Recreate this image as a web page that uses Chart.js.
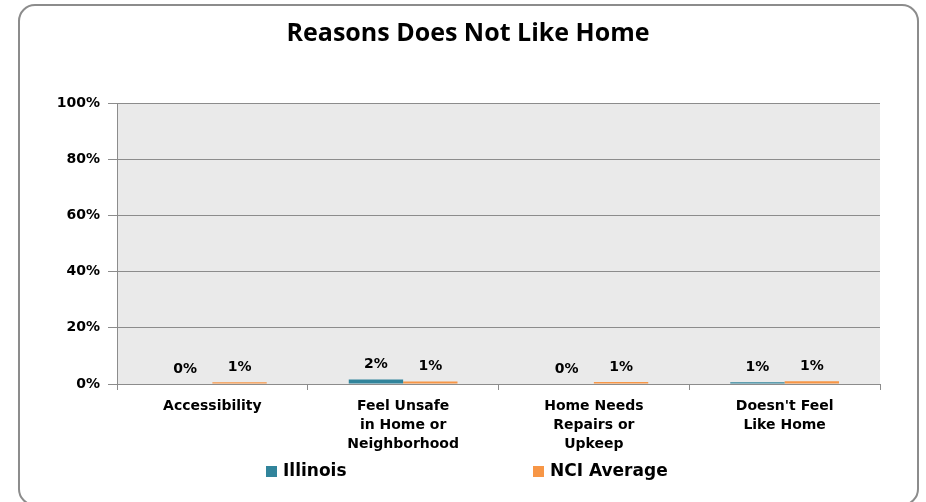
<!DOCTYPE html>
<html>
<head>
<meta charset="utf-8">
<script src="https://cdn.jsdelivr.net/npm/chart.js@4"></script>
<style>
html,body{margin:0;padding:0;background:#fff;}
#wrap{width:926px;height:502px;position:relative;}
</style>
</head>
<body>
<div id="wrap"><canvas id="c" width="926" height="502"></canvas></div>
<script>
const categories = [["Accessibility"], ["Feel Unsafe", "in Home or", "Neighborhood"], ["Home Needs", "Repairs or", "Upkeep"], ["Doesn't Feel", "Like Home"]];
const seriesNames = ["Illinois", "NCI Average"];
const illinoisValues = [0, 1.6, 0, 0.6];
const nciValues = [0.6, 0.9, 0.7, 1.0];
const illinoisLabels = ["0%", "2%", "0%", "1%"];
const nciLabels = ["1%", "1%", "1%", "1%"];
const yTicks = [0, 20, 40, 60, 80, 100];
const titleText = "Reasons Does Not Like Home";

const colors = ["#31849B", "#F79646"];
const labelSets = [illinoisLabels, nciLabels];
const tickFont = "bold 14px 'DejaVu Sans', sans-serif";

const decor = {
  id: 'decor',
  beforeDraw(chart) {
    const ctx = chart.ctx;
    const a = chart.chartArea;
    ctx.save();
    ctx.fillStyle = '#fff';
    ctx.fillRect(0, 0, chart.width, chart.height);
    // outer rounded border
    ctx.strokeStyle = '#8c8c8c';
    ctx.lineWidth = 2;
    ctx.beginPath();
    ctx.roundRect(19, 5, 899, 500, 16);
    ctx.stroke();
    // plot background
    ctx.fillStyle = '#EAEAEA';
    ctx.fillRect(a.left, a.top, a.right - a.left, a.bottom - a.top);
    // title
    ctx.fillStyle = '#000';
    ctx.font = "bold 25px 'Open Sans', sans-serif";
    ctx.textAlign = 'center';
    ctx.textBaseline = 'middle';
    ctx.fillText(titleText, 468, 34);
    ctx.restore();
  },
  afterDatasetsDraw(chart) {
    const ctx = chart.ctx;
    ctx.save();
    ctx.font = tickFont;
    ctx.fillStyle = '#000';
    ctx.textAlign = 'center';
    ctx.textBaseline = 'middle';
    chart.data.datasets.forEach((ds, i) => {
      const meta = chart.getDatasetMeta(i);
      meta.data.forEach((bar, j) => {
        ctx.fillText(labelSets[i][j], bar.x, bar.y - 15);
      });
    });
    // legend
    const items = [{x: 266, i: 0}, {x: 533, i: 1}];
    ctx.font = "bold 17px 'DejaVu Sans', sans-serif";
    ctx.textAlign = 'left';
    items.forEach(it => {
      ctx.fillStyle = colors[it.i];
      ctx.fillRect(it.x, 466, 11, 11);
      ctx.fillStyle = '#000';
      ctx.fillText(seriesNames[it.i], it.x + 17, 472);
    });
    ctx.restore();
  }
};

new Chart(document.getElementById('c'), {
  type: 'bar',
  data: {
    labels: categories,
    datasets: [
      {label: seriesNames[0], data: illinoisValues, backgroundColor: colors[0]},
      {label: seriesNames[1], data: nciValues, backgroundColor: colors[1]}
    ]
  },
  options: {
    responsive: false,
    animation: false,
    devicePixelRatio: 1,
    layout: {padding: {top: 103, right: 46, left: 0, bottom: 0}},
    plugins: {legend: {display: false}, title: {display: false}, tooltip: {enabled: false}},
    datasets: {bar: {categoryPercentage: 0.57, barPercentage: 1.0}},
    scales: {
      x: {
        afterFit: s => { s.height = 118; },
        grid: {drawOnChartArea: false, drawTicks: true, tickLength: 6, color: '#8c8c8c', offset: true},
        border: {color: '#8c8c8c', width: 1},
        ticks: {font: {family: "'DejaVu Sans', sans-serif", size: 14, weight: 'bold', lineHeight: 1.36}, color: '#000', padding: 7, maxRotation: 0, autoSkip: false}
      },
      y: {
        min: 0, max: 100,
        afterFit: s => { s.width = 117; },
        afterBuildTicks: s => { s.ticks = yTicks.map(v => ({value: v})); },
        grid: {color: '#8c8c8c', tickLength: 9, lineWidth: 1},
        border: {color: '#8c8c8c', width: 1},
        ticks: {font: {family: "'DejaVu Sans', sans-serif", size: 14, weight: 'bold'}, color: '#000', padding: 8, callback: v => v + '%'}
      }
    }
  },
  plugins: [decor]
});
</script>
</body>
</html>
